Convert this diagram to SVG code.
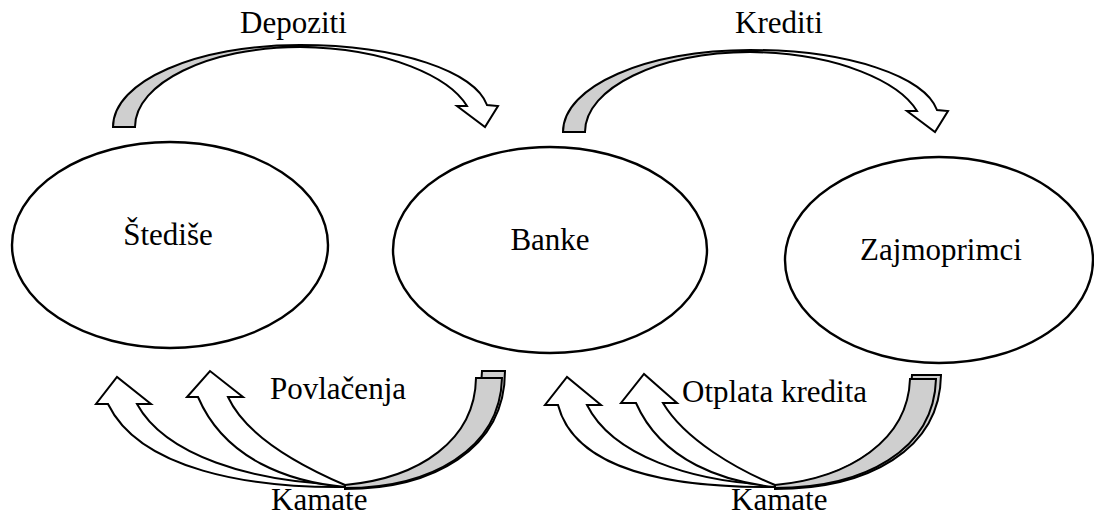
<svg xmlns="http://www.w3.org/2000/svg" width="1094" height="515" viewBox="0 0 1094 515">
  <style>
    .node { fill: #ffffff; stroke: #000000; stroke-width: 2.4; }
    .lbl { font-family: "Liberation Serif", "Times New Roman", serif; font-size: 31px; fill: #000000; }
    .front { fill: #ffffff; stroke: #000000; stroke-width: 2; stroke-linejoin: miter; }
    .back { fill: #cfcfcf; stroke: #000000; stroke-width: 2; stroke-linejoin: miter; }
  </style>
  <rect width="1094" height="515" fill="#ffffff"/>

  <!-- flow arrows -->
  <g id="connectors">
    <!-- Depoziti: savers to banks -->
    <g id="arrow-depoziti">
      <path class="back" d="M113,127 C113,81 197,45 300,45 L300,47 C209,47 135,83 135,127 Z"/>
      <path class="front" d="M300,45 C400,45 475,72 487,105 L498,106 L485,127 L457,106 L467,106 C450,78 390,48 300,47 Z"/>
    </g>
    <!-- Krediti: banks to borrowers -->
    <g id="arrow-krediti" transform="translate(450,5)">
      <path class="back" d="M113,127 C113,81 197,45 300,45 L300,47 C209,47 135,83 135,127 Z"/>
      <path class="front" d="M300,45 C400,45 475,72 487,105 L498,106 L485,127 L457,106 L467,106 C450,78 390,48 300,47 Z"/>
    </g>
    <!-- Povlačenja / Kamate: banks back to savers -->
    <g id="arrows-povlacenja">
      <path class="back" d="M345,486 C425,478 481,436 482,371 L505,371 C505,450 432,489 345,489 Z"/>
      <path class="back" d="M345,485 C420,478 475,440 476,378 L502,378 C500,450 430,488 345,488 Z"/>
      <path class="front" d="M108,404 C140,470 250,488 345,487 L345,485 C250,482 165,455 137,404 L151,404 L117,377 L96,404 Z"/>
      <path class="front" d="M198,397 C225,460 290,482 345,487 L345,485 C310,470 248,440 228,397 L243,397 L210,371 L187,397 Z"/>
    </g>
    <!-- Otplata kredita / Kamate: borrowers back to banks -->
    <g id="arrows-otplata">
      <path class="back" d="M775,486 C855,478 911,436 912,375 L941,375 C940,450 868,489 775,489 Z"/>
      <path class="back" d="M775,485 C850,478 908,440 910,379 L936,379 C934,450 865,488 775,488 Z"/>
      <path class="front" d="M558,405 C575,470 670,488 775,487 L775,485 C690,482 612,455 587,405 L601,405 L567,377 L545,405 Z"/>
      <path class="front" d="M636,403 C662,462 725,482 775,487 L775,485 C738,470 685,440 663,403 L677,403 L644,374 L621,403 Z"/>
    </g>
  </g>

  <g id="node-stedise">
    <ellipse class="node" cx="170" cy="245" rx="158" ry="103"/>
    <text class="lbl" x="168" y="245" text-anchor="middle">Štediše</text>
  </g>
  <g id="node-banke">
    <ellipse class="node" cx="550" cy="250" rx="157" ry="103"/>
    <text class="lbl" x="550" y="250" text-anchor="middle">Banke</text>
  </g>
  <g id="node-zajmoprimci">
    <ellipse class="node" cx="939" cy="260" rx="154" ry="103"/>
    <text class="lbl" x="941" y="260" text-anchor="middle">Zajmoprimci</text>
  </g>

  <g id="labels">
    <text class="lbl" x="240" y="33">Depoziti</text>
    <text class="lbl" x="735" y="33">Krediti</text>
    <text class="lbl" x="270" y="399">Povlačenja</text>
    <text class="lbl" x="682" y="402">Otplata kredita</text>
    <text class="lbl" x="271" y="510">Kamate</text>
    <text class="lbl" x="731" y="510">Kamate</text>
  </g>
</svg>
